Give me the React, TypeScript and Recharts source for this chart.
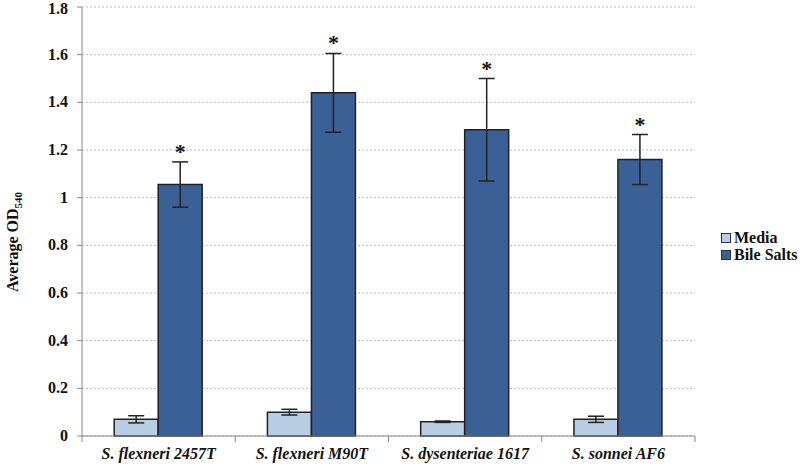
import { BarChart, Bar, XAxis, YAxis, CartesianGrid, ErrorBar, LabelList } from "recharts"

const strains = ["S. flexneri 2457T", "S. flexneri M90T", "S. dysenteriae 1617", "S. sonnei AF6"]
const media = [0.07, 0.1, 0.06, 0.07]
const mediaErr = [0.015, 0.012, 0.003, 0.013]
const bileSalts = [1.055, 1.44, 1.285, 1.16]
const bileErr = [0.095, 0.165, 0.215, 0.105]
const yTicks = [0, 0.2, 0.4, 0.6, 0.8, 1, 1.2, 1.4, 1.6, 1.8]

const chartData = strains.map((s, i) => ({
  strain: s,
  Media: media[i],
  mediaErr: mediaErr[i],
  "Bile Salts": bileSalts[i],
  bileErr: bileErr[i],
}))

const font = "'Liberation Serif', 'DejaVu Serif', serif"
const MEDIA_COLOR = "#b9cde5"
const BILE_COLOR = "#3b6096"

function StrainTick(props: any) {
  const { x, y, payload, index } = props
  const half = 613 / 4 / 2
  return (
    <g>
      <line x1={x - half} y1={y} x2={x - half} y2={y + 6} stroke="#888" />
      {index === strains.length - 1 && <line x1={x + half} y1={y} x2={x + half} y2={y + 6} stroke="#888" />}
      <text x={x} y={y + 23} textAnchor="middle" style={{ fontFamily: font, fontWeight: "bold", fontStyle: "italic", fontSize: 16 }} fill="#111">
        {payload.value}
      </text>
    </g>
  )
}

function NumTick(props: any) {
  const { x, y, payload } = props
  return (
    <text x={x} y={y + 5} textAnchor="end" style={{ fontFamily: font, fontWeight: "bold", fontSize: 16 }} fill="#111">
      {payload.value}
    </text>
  )
}

function Star(props: any) {
  const { x, y, width, height, value, index } = props
  const errTop = y - (height / value) * bileErr[index]
  return (
    <text x={x + width / 2} y={errTop - 3} textAnchor="middle" style={{ fontFamily: font, fontWeight: "bold", fontSize: 22 }} fill="#111">
      *
    </text>
  )
}

function YLabel() {
  return (
    <text transform="rotate(-90, 18, 242)" x={18} y={242} textAnchor="middle" style={{ fontFamily: font, fontWeight: "bold", fontSize: 16 }} fill="#111">
      Average OD<tspan style={{ fontSize: 11 }} dy={4}>540</tspan>
    </text>
  )
}

const legendItems = [
  { name: "Media", color: MEDIA_COLOR },
  { name: "Bile Salts", color: BILE_COLOR },
]

export default function App() {
  return (
    <div style={{ position: "fixed", left: 0, top: 0, width: 800, height: 467, background: "#fff" }}>
      <BarChart
        width={800}
        height={467}
        data={chartData}
        margin={{ top: 7, right: 105, left: 0, bottom: 0 }}
        barCategoryGap="21%"
        barGap={0}
      >
        <CartesianGrid vertical={false} stroke="#bdbdbd" strokeDasharray="2 2" />
        <XAxis dataKey="strain" height={31} stroke="#888" tickLine={false} tickSize={0} tickMargin={0} tick={<StrainTick />} interval={0} />
        <YAxis
          width={82}
          domain={[0, 1.8]}
          ticks={yTicks}
          stroke="#888"
          tickSize={5}
          tickMargin={9}
          tick={<NumTick />}
          label={<YLabel />}
        />
        <Bar dataKey="Media" fill={MEDIA_COLOR} stroke="#222" strokeWidth={1.5} isAnimationActive={false}>
          <ErrorBar dataKey="mediaErr" width={8} stroke="#222" strokeWidth={1.5} />
        </Bar>
        <Bar dataKey="Bile Salts" fill={BILE_COLOR} stroke="#222" strokeWidth={1.5} isAnimationActive={false}>
          <ErrorBar dataKey="bileErr" width={8} stroke="#222" strokeWidth={1.5} />
          <LabelList dataKey="Bile Salts" content={<Star />} />
        </Bar>
      </BarChart>
      <div style={{ position: "absolute", left: 721, top: 229, fontFamily: font, fontWeight: "bold", fontSize: 16, color: "#111" }}>
        {legendItems.map((it) => (
          <div key={it.name} style={{ display: "flex", alignItems: "center", height: 17 }}>
            <span style={{ width: 8, height: 8, background: it.color, border: "1px solid #333", marginRight: 3 }} />
            {it.name}
          </div>
        ))}
      </div>
    </div>
  )
}
